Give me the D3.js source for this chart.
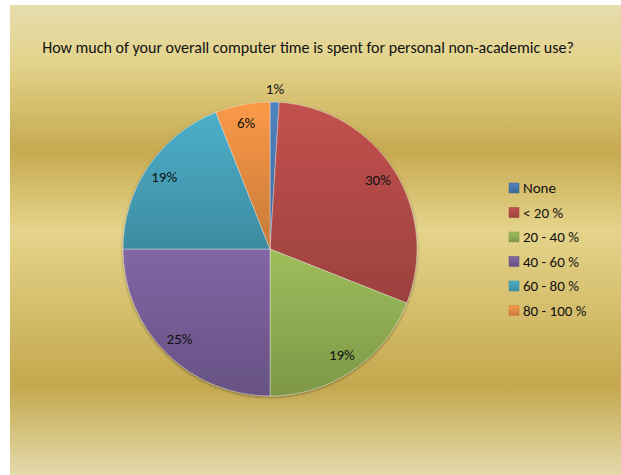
<!DOCTYPE html>
<html>
<head>
<meta charset="utf-8">
<script src="https://cdn.jsdelivr.net/npm/d3@7"></script>
<style>
  html, body { margin: 0; padding: 0; background: #ffffff; }
  svg { display: block; }
  text { font-family: Carlito, Calibri, Lato, "Open Sans", sans-serif; fill: #111; }
</style>
</head>
<body>
<svg id="chart" width="621" height="475"></svg>
<script>
// Survey answers: share of computer time spent on personal, non-academic use
const categories = ["None", "< 20 %", "20 - 40 %", "40 - 60 %", "60 - 80 %", "80 - 100 %"];
const values = [1, 30, 19, 25, 19, 6];
const labels = ["1%", "30%", "19%", "25%", "19%", "6%"];
const colors = ["#4f81bd", "#c0504d", "#9bbb59", "#8064a2", "#4bacc6", "#f79646"];
const title = "How much of your overall computer time is spent for personal non-academic use?";

const W = 621, H = 475;
const svg = d3.select("#chart");
const defs = svg.append("defs");

// Golden banded backdrop
const bg = defs.append("linearGradient").attr("id", "bg")
  .attr("x1", 0).attr("y1", 0).attr("x2", 0).attr("y2", 1);
[[0, "#e6ddae"], [0.12, "#e3d38b"], [0.31, "#c7aa51"], [0.48, "#e5d48b"],
 [0.81, "#c5a84e"], [1, "#e3daab"]].forEach(([o, c]) =>
  bg.append("stop").attr("offset", o).attr("stop-color", c));

svg.append("rect").attr("x", 10).attr("y", 5).attr("width", W - 10).attr("height", H - 5)
  .attr("fill", "url(#bg)");

// Per-slice shading: base colour at top, darker toward the bottom
colors.forEach((c, i) => {
  const g = defs.append("linearGradient").attr("id", "sl" + i)
    .attr("x1", 0).attr("y1", 0).attr("x2", 0).attr("y2", 1);
  g.append("stop").attr("offset", 0).attr("stop-color", d3.color(c).brighter(0.05));
  g.append("stop").attr("offset", 1).attr("stop-color", d3.color(c).darker(0.6));
});

const shadow = defs.append("filter").attr("id", "shadow")
  .attr("x", "-10%").attr("y", "-10%").attr("width", "120%").attr("height", "120%");
shadow.append("feGaussianBlur").attr("in", "SourceAlpha").attr("stdDeviation", 1.5).attr("result", "b");
shadow.append("feOffset").attr("in", "b").attr("dx", 0).attr("dy", 1).attr("result", "o");
shadow.append("feComponentTransfer").attr("in", "o").attr("result", "s")
  .append("feFuncA").attr("type", "linear").attr("slope", 0.45);
const fm = shadow.append("feMerge");
fm.append("feMergeNode").attr("in", "s");
fm.append("feMergeNode").attr("in", "SourceGraphic");

// Title
svg.append("text")
  .attr("x", 308).attr("y", 53)
  .attr("text-anchor", "middle")
  .style("font-size", "16px")
  .text(title);

// Pie
const cx = 270, cy = 249, r = 147;
const pie = d3.pie().sort(null).value(d => d)(values);
const arc = d3.arc().innerRadius(0).outerRadius(r);
const labelArc = d3.arc().innerRadius(r * 0.87).outerRadius(r * 0.87);
const outerArc = d3.arc().innerRadius(r + 13).outerRadius(r + 13);

const g = svg.append("g").attr("transform", `translate(${cx},${cy})`);
g.append("g").attr("filter", "url(#shadow)")
  .selectAll("path").data(pie).join("path")
  .attr("d", arc)
  .attr("fill", (d, i) => `url(#sl${i})`)
  .attr("stroke", "rgba(255,255,255,0.35)")
  .attr("stroke-width", 1);

g.selectAll("text.lbl").data(pie).join("text")
  .attr("class", "lbl")
  .attr("text-anchor", "middle")
  .attr("dominant-baseline", "central")
  .style("font-size", "15px")
  .attr("transform", (d, i) => {
    const small = values[i] < 3;
    const [x, y] = (small ? outerArc : labelArc).centroid(d);
    return `translate(${x},${y})`;
  })
  .text((d, i) => labels[i]);

// Legend
const legend = svg.append("g").attr("transform", "translate(509,188)");
const item = legend.selectAll("g").data(categories).join("g")
  .attr("transform", (d, i) => `translate(0,${i * 24.5})`);
item.append("rect")
  .attr("x", 0).attr("y", -5).attr("width", 10).attr("height", 10)
  .attr("fill", (d, i) => `url(#sl${i})`)
  .attr("stroke", (d, i) => d3.color(colors[i]).darker(0.6))
  .attr("stroke-width", 0.5);
item.append("text")
  .attr("x", 14).attr("y", 0)
  .attr("dominant-baseline", "central")
  .style("font-size", "15px")
  .text(d => d);
</script>
</body>
</html>
